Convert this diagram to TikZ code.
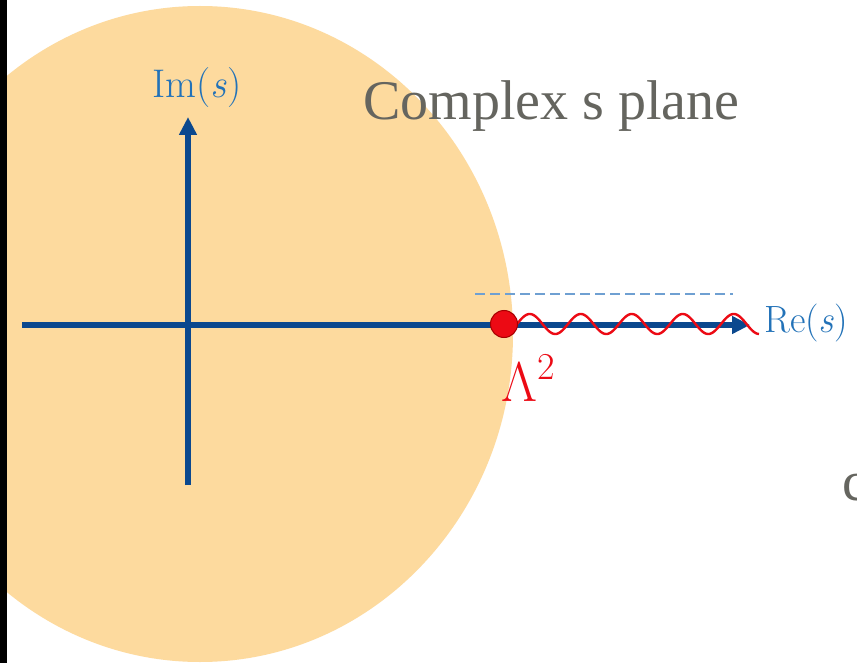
\documentclass[tikz,border=0pt]{standalone}
\usepackage{fontspec}
\newfontfamily\garfont{Liberation Serif}
\usetikzlibrary{arrows.meta}
\definecolor{discfill}{HTML}{FDDA9E}
\definecolor{axisblue}{HTML}{0B488E}
\definecolor{labelblue}{HTML}{2272B8}
\definecolor{dashblue}{HTML}{6FA0D2}
\definecolor{polered}{HTML}{EC0A14}
\definecolor{titlegray}{HTML}{65655F}
\tikzset{
  axisline/.style={axisblue, line width=6pt, -{Triangle[length=18pt,width=17pt]}},
  axislabel/.style={labelblue, inner sep=0pt},
  cutline/.style={dashblue, line width=1.5pt, dash pattern=on 10pt off 5pt},
  branchcut/.style={polered, line width=2.4pt},
  poledot/.style={circle, fill=polered, draw=red!65!black, line width=1pt, minimum size=27pt, inner sep=0pt},
  titletext/.style={titlegray, inner sep=0pt, font=\garfont\fontsize{56}{60}\selectfont},
}
\begin{document}
\begin{tikzpicture}[x=1pt,y=-1pt]
\useasboundingbox (0,0) rectangle (857,663);
\clip (0,0) rectangle (857,663);
\fill[white] (0,0) rectangle (857,663);
% disc
\fill[discfill] (200,334) ellipse [x radius=313pt, y radius=328pt];
% black strip at left edge
\fill[black] (0,0) rectangle (6.5,663);
% axes
\coordinate (xl) at (22,325);
\coordinate (xr) at (750,325);
\coordinate (yb) at (188,485);
\coordinate (yt) at (188,117);
\draw[axisline] (xl) -- (xr);
\draw[axisline] (yb) -- (yt);
% dashed line
\coordinate (d1) at (475,294);
\coordinate (d2) at (733,294);
\draw[cutline] (d1) -- (d2);
% wavy branch cut
\draw[branchcut] plot[domain=512:759, samples=240, smooth] (\x, {324-10*sin(7.0588*(\x-517))});
% pole
\node[poledot] (pole) at (504,324) {};
% labels
\node[axislabel, anchor=base, font=\fontsize{40}{44}\selectfont] (im) at (197,98) {Im(\textit{s})};
\node[axislabel, anchor=base west, font=\fontsize{38}{42}\selectfont] (re) at (764,332) {Re(\textit{s})};
\node[polered, anchor=base west, inner sep=0pt, font=\fontsize{56}{60}\selectfont] (lam) at (501,401) {Λ\raisebox{22pt}{\fontsize{38}{40}\selectfont 2}};
\node[titletext, anchor=base west] (title) at (363,120) {Complex s plane};
\node[titletext, anchor=base west] (cut) at (842,500) {c};
\end{tikzpicture}
\end{document}
